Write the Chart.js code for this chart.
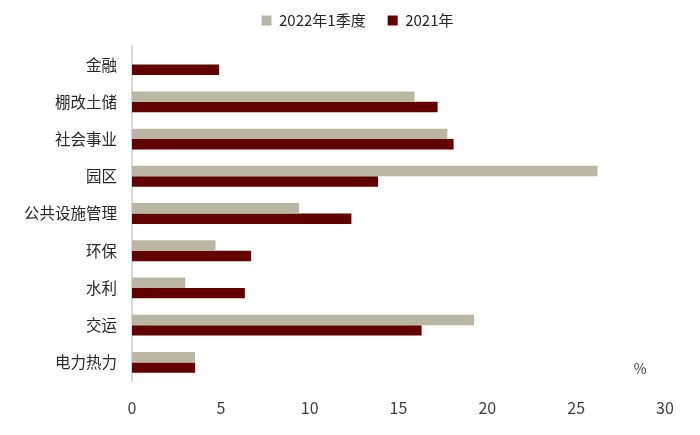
<!DOCTYPE html>
<html>
<head>
<meta charset="utf-8">
<script src="https://cdn.jsdelivr.net/npm/chart.js@4.4.1/dist/chart.umd.min.js"></script>
<style>
  html, body { margin: 0; padding: 0; background: #fff; }
  #wrap { width: 700px; height: 435px; position: relative; }
</style>
</head>
<body>
<div id="wrap"><canvas id="barChart"></canvas></div>
<script>
const categories = ['金融', '棚改土储', '社会事业', '园区', '公共设施管理', '环保', '水利', '交运', '电力热力'];
const q1_2022 = [0, 15.9, 17.75, 26.2, 9.4, 4.7, 3.0, 19.25, 3.55];
const y2021 = [4.9, 17.2, 18.1, 13.85, 12.35, 6.7, 6.35, 16.3, 3.55];
const seriesNames = ['2022年1季度', '2021年'];
const xTicks = [0, 5, 10, 15, 20, 25, 30];
const unitLabel = '%';

const fontFamily = '"Liberation Sans Narrow", "Noto Sans CJK SC", sans-serif';

// fixes the legend block height and nudges it to where the reference has it
const legendPlace = {
    id: 'legendPlace',
    beforeInit(chart) {
        const origFit = chart.legend.fit;
        chart.legend.fit = function () {
            origFit.bind(chart.legend)();
            this.height = 46;
        };
    },
    afterLayout(chart) {
        const lg = chart.legend;
        lg.left += 25;
        lg.right += 25;
        lg.top -= 9;
        lg.bottom -= 9;
    }
};

// the "%" unit marker near the lower right of the plot
const unitText = {
    id: 'unitText',
    afterDraw(chart) {
        const ctx = chart.ctx;
        const x = chart.scales.x.getPixelForValue(28.6);
        ctx.save();
        ctx.fillStyle = '#404040';
        ctx.font = '14px ' + fontFamily;
        ctx.textAlign = 'center';
        ctx.textBaseline = 'middle';
        ctx.fillText(unitLabel, x, chart.chartArea.bottom - 12);
        ctx.restore();
    }
};

const ctx = document.getElementById('barChart').getContext('2d');
new Chart(ctx, {
    type: 'bar',
    data: {
        labels: categories,
        datasets: [{
            label: seriesNames[0],
            data: q1_2022,
            backgroundColor: '#b9b7a4',
            categoryPercentage: 0.56,
            barPercentage: 1
        }, {
            label: seriesNames[1],
            data: y2021,
            backgroundColor: '#620000',
            categoryPercentage: 0.56,
            barPercentage: 1
        }]
    },
    options: {
        indexAxis: 'y',
        responsive: true,
        maintainAspectRatio: false,
        animation: false,
        layout: { padding: { left: 0, right: 35, top: 0, bottom: 0 } },
        plugins: {
            legend: {
                position: 'top',
                labels: {
                    boxWidth: 10,
                    boxHeight: 10,
                    padding: 22,
                    color: '#262626',
                    font: { family: fontFamily, size: 15 }
                }
            },
            tooltip: { enabled: false }
        },
        scales: {
            x: {
                min: 0,
                max: 30,
                afterBuildTicks(scale) {
                    scale.ticks = xTicks.map(v => ({ value: v }));
                },
                grid: { display: false, drawTicks: false },
                border: { display: false },
                ticks: {
                    padding: 17,
                    color: '#404040',
                    font: { family: fontFamily, size: 16 }
                },
                afterFit(scale) { scale.height = 54; }
            },
            y: {
                grid: { display: false, drawTicks: false },
                border: { display: true, color: '#d9d9d9', width: 2 },
                ticks: {
                    padding: 15,
                    color: '#262626',
                    font: { family: '"Noto Sans CJK SC", sans-serif', size: 15.5 }
                },
                afterFit(scale) { scale.width = 132; }
            }
        }
    },
    plugins: [legendPlace, unitText]
});
</script>
</body>
</html>
